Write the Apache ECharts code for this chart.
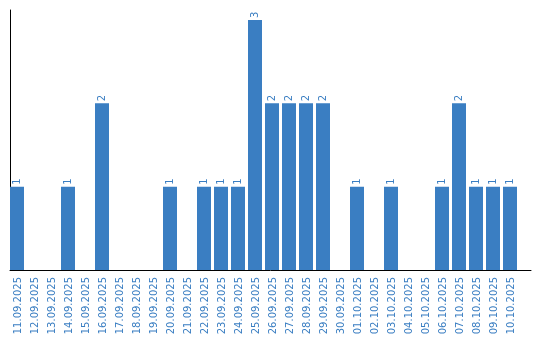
<!DOCTYPE html>
<html>
<head>
<meta charset="utf-8">
<script src="https://cdn.jsdelivr.net/npm/echarts@6/dist/echarts.min.js"></script>
<style>html,body{margin:0;padding:0;background:#fff}#c{width:540px;height:340px}</style>
</head>
<body>
<div id="c"></div>
<script>
const categories = ['11.09.2025','12.09.2025','13.09.2025','14.09.2025','15.09.2025','16.09.2025','17.09.2025','18.09.2025','19.09.2025','20.09.2025','21.09.2025','22.09.2025','23.09.2025','24.09.2025','25.09.2025','26.09.2025','27.09.2025','28.09.2025','29.09.2025','30.09.2025','01.10.2025','02.10.2025','03.10.2025','04.10.2025','05.10.2025','06.10.2025','07.10.2025','08.10.2025','09.10.2025','10.10.2025'];
const counts = [1,0,0,1,0,2,0,0,0,1,0,1,1,1,3,2,2,2,2,0,1,0,1,0,0,1,2,1,1,1];
const spacer = counts.map(() => 0);

const blue = '#3a7ec2';
const chart = echarts.init(document.getElementById('c'));
chart.setOption({
  animation: false,
  grid: [
    {left: 10, top: 10, width: 510, bottom: 70},
    {left: 10, top: 10, width: 521, bottom: 70}
  ],
  xAxis: [
    {
      type: 'category', data: categories, gridIndex: 0,
      axisLine: {show: false}, axisTick: {show: false},
      axisLabel: {rotate: 90, color: blue, fontFamily: 'DejaVu Sans', fontSize: 10, margin: 7, interval: 0}
    },
    {
      type: 'category', data: [''], gridIndex: 1,
      axisLine: {show: true, lineStyle: {color: '#000', width: 1}},
      axisTick: {show: false}, axisLabel: {show: false}, splitLine: {show: false}
    }
  ],
  yAxis: [
    {
      type: 'value', gridIndex: 0, min: 0, max: 3.12,
      axisLine: {show: true, lineStyle: {color: '#000', width: 1}},
      axisTick: {show: false}, axisLabel: {show: false}, splitLine: {show: false}
    },
    {type: 'value', gridIndex: 1, show: false}
  ],
  series: [
    {
      type: 'bar', data: counts, barWidth: 14, barGap: '0%',
      itemStyle: {color: blue},
      label: {
        show: true, position: 'top', rotate: 90, align: 'left', verticalAlign: 'middle',
        distance: 2, color: blue, fontFamily: 'DejaVu Sans', fontSize: 10,
        formatter: p => p.value > 0 ? String(p.value) : ''
      }
    },
    {
      type: 'bar', data: spacer, barWidth: 3, silent: true,
      itemStyle: {color: 'rgba(0,0,0,0)'}
    }
  ]
});
</script>
</body>
</html>
